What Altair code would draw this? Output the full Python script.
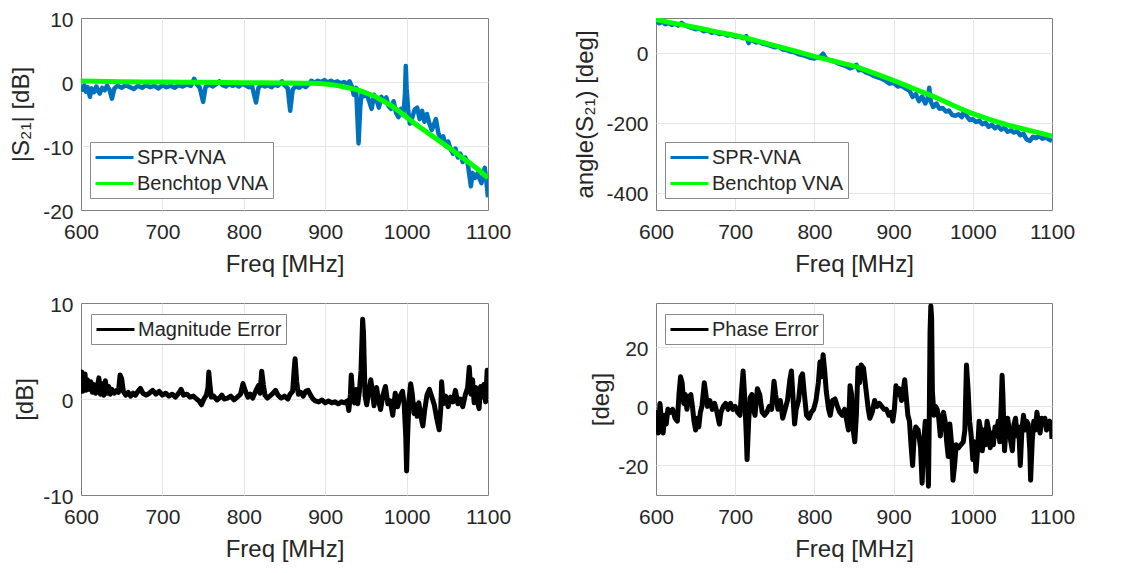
import altair as alt
import pandas as pd

FONT = "Liberation Sans"
TXT = "#262626"
BLUE = "#0072BD"
GREEN = "#00FF00"
BLACK = "#000000"

X_TICKS = [600, 700, 800, 900, 1000, 1100]

# ---- |S21| SPR-VNA (dB)
sm_f = [600,602,604,606,608,611,613,616,619,621,623,626,629,632,635,638,641,645,650,655,
        660,665,670,675,680,685,690,695,700,705,710,715,720,725,730,735,739,742,746,750,
        753,757,762,766,770,774,778,782,786,790,794,798,802,806,810,815,818,822,826,830,
        834,838,842,847,850,854,857,860,864,868,872,876,880,883,887,891,895,899,903,907,
        911,915,919,923,927,930,933,935,938,941,943,945,948,951,954,957,960,963,966,969,
        972,975,978,981,984,987,990,993,996,998,999,1000,1002,1004,1007,1010,1013,1016,1019,1022,
        1025,1028,1031,1034,1036,1039,1042,1045,1048,1051,1054,1057,1060,1063,1066,1069,1072,1075,1077,1079,
        1081,1084,1087,1090,1092,1094,1096,1098,1100]
sm_v = [-0.6,-1.2,-0.5,-1.5,-0.8,-2.3,-1.0,-1.6,-0.7,-1.4,-1.8,-0.9,-1.3,-0.6,-1.2,-2.6,-1.0,-0.6,-0.9,-0.5,
        -0.8,-1.1,-0.6,-0.9,-0.5,-0.8,-0.6,-1.0,-0.5,-0.8,-0.6,-0.9,-0.5,-0.7,-0.4,-0.6,0.5,-0.3,-0.9,-3.1,
        -0.8,-0.4,-0.7,-0.3,0.1,-0.5,-0.7,-0.3,-0.6,-0.4,-0.7,-0.3,-0.5,-0.8,-0.6,-3.2,-0.9,-0.4,-0.7,-0.5,
        -0.8,-0.4,-0.6,0.1,-0.5,-1.0,-4.5,-1.2,-0.6,-0.9,-0.5,-0.8,-0.3,0.2,-0.1,0.2,0.0,0.3,-0.1,0.2,
        -0.1,0.1,-0.2,0.0,-0.3,0.1,-0.8,-2.0,-0.9,-9.6,-4.0,-1.5,-2.2,-1.8,-3.0,-4.2,-2.0,-2.8,-4.0,-2.3,
        -3.0,-2.4,-3.8,-4.2,-3.0,-4.8,-5.5,-4.2,-5.2,-2.0,2.5,-1.0,-4.5,-6.5,-5.5,-4.3,-4.0,-5.8,-4.5,-6.2,
        -5.0,-6.5,-7.5,-6.5,-5.8,-8.0,-8.8,-8.5,-10.0,-9.3,-10.5,-11.2,-10.4,-11.8,-11.2,-12.5,-11.8,-12.6,-14.5,-16.3,
        -14.2,-15.0,-14.3,-15.2,-15.8,-14.6,-13.4,-15.5,-18.0]

# ---- |S21| Benchtop VNA (dB)
bm_f = [600,650,700,750,800,850,880,900,910,920,930,940,950,960,970,980,990,1000,1010,1020,
        1030,1040,1050,1060,1070,1080,1090,1100]
bm_v = [0.15,0.05,0.0,-0.05,-0.1,-0.15,-0.2,-0.3,-0.45,-0.7,-0.95,-1.25,-1.7,-2.2,-2.9,-3.6,-4.5,-5.5,-6.5,-7.4,
        -8.3,-9.2,-10.1,-11.0,-12.0,-12.9,-13.9,-15.0]

# ---- angle(S21) SPR-VNA (deg)
sp_f = [600,604,608,612,616,620,624,628,632,636,
        640,645,650,655,660,665,670,675,680,685,
        690,695,700,705,710,714,717,719,722,726,
        730,735,740,745,750,755,760,765,770,775,
        780,785,790,795,800,804,808,811,814,818,
        822,826,830,835,840,845,850,853,856,860,
        865,870,875,880,885,890,895,900,905,910,
        915,920,924,928,932,936,940,943,945,947,
        950,954,958,962,966,970,974,978,982,986,
        989,992,996,1000,1004,1008,1012,1016,1020,1024,
        1028,1032,1036,1040,1044,1048,1052,1056,1060,1064,
        1068,1072,1076,1080,1084,1088,1092,1096,1100]
sp_v = [92,85,90,82,86,80,84,78,86,80,
        76,72,68,70,62,66,58,60,54,56,
        50,52,46,48,42,48,28,38,36,30,
        32,26,24,20,16,18,10,8,4,2,
        -4,-6,-10,-14,-16,-12,-10,-2,-14,-20,
        -22,-26,-30,-34,-38,-44,-40,-34,-50,-48,
        -56,-60,-66,-70,-74,-80,-88,-86,-96,-94,
        -102,-108,-126,-118,-138,-125,-145,-130,-100,-140,
        -155,-145,-160,-158,-168,-165,-178,-180,-176,-184,
        -165,-180,-192,-190,-198,-194,-204,-200,-212,-206,
        -216,-210,-220,-214,-226,-222,-228,-224,-236,-232,
        -248,-252,-240,-244,-238,-246,-242,-248,-252]

# ---- angle(S21) Benchtop VNA (deg)
bp_f = [600,625,650,675,700,725,750,775,800,825,850,875,900,925,950,975,1000,1025,1050,1075,1100]
bp_v = [95,84,73,61,50,36,21,6,-10,-24,-38,-58,-79,-102,-124,-150,-174,-193,-210,-224,-238]

# ---- Magnitude error (dB)
me_f = [600,601,602,603,604,605,606,608,610,612,
        614,616,618,620,622,624,626,628,630,632,
        634,636,638,641,644,646,648,650,652,655,
        658,661,664,667,670,673,676,680,684,688,
        692,696,700,704,708,712,716,720,723,726,
        730,734,738,742,745,748,751,754,756,757,
        758,760,763,767,770,773,776,780,784,788,
        792,796,799,802,805,808,811,815,818,820,
        822,824,826,829,832,836,839,842,846,850,
        854,857,860,862,863,865,867,870,873,876,
        879,882,885,888,892,896,900,904,908,912,
        916,920,924,927,929,931,932,934,936,938,
        940,942,944,946,947,949,951,953,956,958,
        960,963,966,968,971,974,977,980,983,986,
        989,992,995,997,999,1000,1001,1003,1005,1007,
        1009,1011,1013,1015,1018,1020,1022,1025,1028,1031,
        1034,1037,1040,1042,1043,1045,1048,1051,1054,1057,
        1060,1063,1066,1069,1072,1075,1077,1079,1081,1083,
        1085,1087,1089,1091,1093,1095,1097,1099,1100]
me_v = [1.0,2.8,0.8,2.4,1.2,2.6,0.9,2.0,1.0,1.8,
        0.7,1.5,0.6,1.2,2.2,0.5,1.6,0.4,1.9,0.6,
        1.3,0.5,1.0,0.6,0.9,0.7,2.5,2.1,0.8,0.4,
        0.7,0.3,0.6,0.4,0.8,1.1,0.6,0.4,0.6,0.9,
        0.5,0.8,0.4,0.6,0.3,0.5,0.2,0.6,1.0,0.4,
        0.5,0.2,0.3,0.0,-0.2,-0.6,0.0,0.4,1.2,2.8,
        1.8,0.2,0.3,-0.1,0.1,0.4,0.0,0.1,0.3,-0.1,
        0.2,0.5,1.6,0.8,0.2,0.5,0.1,0.9,1.4,0.6,
        2.9,1.5,0.4,0.1,0.3,0.6,0.9,0.4,0.1,0.3,
        0.0,0.5,0.8,3.2,4.2,1.8,0.5,0.7,0.3,0.8,
        0.9,0.4,0.0,-0.2,-0.3,-0.1,-0.4,-0.2,-0.4,-0.3,
        -0.5,-0.3,-0.4,-0.2,-1.2,0.5,2.5,0.2,-0.4,1.0,
        -0.5,0.8,3.0,8.3,7.0,0.3,-0.6,0.5,2.0,0.8,
        -0.7,1.2,-0.3,-1.1,0.4,1.3,-0.5,-0.2,-1.7,0.6,
        -0.8,0.3,0.8,-0.5,-4.0,-7.5,-4.5,0.0,1.6,0.5,
        -1.5,-0.6,-1.8,-0.4,-2.0,-2.8,-1.3,0.4,1.0,0.2,
        -0.6,-2.0,-3.2,-1.0,1.8,-0.5,0.3,-0.8,0.2,-0.3,
        0.9,-0.5,0.0,-0.8,0.4,1.2,3.3,0.5,2.0,-0.4,
        1.2,-0.2,-1.0,1.3,0.2,1.5,-0.3,3.0,0.0]

# ---- Phase error (deg)
pe_f = [600,601,602,603,605,607,609,611,613,615,
        618,621,624,627,629,631,633,635,637,639,
        641,644,646,648,650,652,654,656,658,661,
        663,665,668,671,674,677,680,682,685,688,
        691,694,697,700,703,706,708,710,712,714,
        715,717,719,721,723,725,728,731,734,737,
        740,743,746,749,751,754,757,760,763,766,
        769,771,773,775,777,780,783,785,787,790,
        793,796,799,802,805,807,809,811,813,815,
        818,820,823,826,829,832,835,838,841,843,
        845,847,849,851,853,855,857,859,862,865,
        868,870,873,876,879,882,885,888,891,894,
        897,899,901,903,905,907,910,912,914,916,
        918,920,922,924,926,928,931,934,936,938,
        940,942,944,945,946,947,948,949,951,953,
        955,957,959,961,963,965,967,969,971,973,
        975,977,979,982,985,988,990,992,994,996,
        998,1000,1002,1004,1006,1008,1010,1012,1014,1016,
        1018,1020,1022,1024,1026,1028,1030,1032,1034,1036,
        1037,1038,1040,1042,1044,1046,1048,1050,1052,1054,
        1056,1058,1060,1062,1064,1066,1068,1070,1072,1073,
        1075,1077,1079,1081,1083,1085,1087,1089,1091,1093,
        1095,1097,1099,1100]
pe_v = [-3,-8,-2,-9,1,-5,-9,-3,-6,-1,
        -2,-1,-4,-5,4,10,8,1,4,-1,
        3,4,0,-5,-8,-4,-7,-2,0,8,
        4,0,2,-1,1,-2,-6,-2,0,1,
        -1,1,-1,0,-2,-3,5,12,3,-10,
        -18,-5,3,4,-1,-3,6,4,-2,-3,
        -2,0,-1,8.5,4,-1,2,-4,-1,2,
        9,12,3,-6,-1,2,10,11,5,-3,
        -4,-2,-1,2,8,15,10,17.5,12,5,
        -1,-3,2,2.5,0,-2,-3,-1,-5,-8,
        7,4,-8,-12,-3,13,8,14,13,6,
        -1,-4,-2,2,0,1,0,-1,-1,-3,
        -2,-5,-1,7,4,6,2,5,9,3,
        -3,-5,-13,-20,-10,-7,-8,-14,-26,-12,
        -5,-10,-27,-5,25,34,30,5,-3,0,
        -1,-4,-10,-4,-2,-5,-12,-17,-6,-12,
        -25,-20,-13,-14,-13,-12,-8,14,6,-5,
        -10,-18,-12,-22,-15,-5,-8,-15,-8,-13,
        -5,-8,-14,-9,-13,-7,-10,-5,-12,2,
        10.5,4,-15,-8,-4,-8,-12,-15,-6,-4,
        -10,-7,-20,-8,-3,-8,-5,-6,-15,-25,
        -12,-5,-8,-2,-6,-9,-4,-6,-4,-8,
        -7,-5,-6,-11]


def frame(f, v, name):
    return pd.DataFrame({"f": f, "v": v, "s": name})


def edge_grid(lo, hi):
    return {"condition": {"test": f"datum.value <= {lo} || datum.value >= {hi}", "value": 0},
            "value": 1}


def panel(series, ydom, yvals, ytitle, yext, ytp, w, h, lx, ly):
    names = [s[0] for s in series]
    colors = [s[3] for s in series]
    cscale = alt.Scale(domain=names, range=colors)
    legend = alt.Legend(
        orient="none", legendX=lx, legendY=ly, title=None,
        symbolType="M-1,0H2.8", symbolSize=400, symbolStrokeWidth=3,
        labelFontSize=20, labelFont=FONT, labelColor=TXT,
        strokeColor="#8a8a8a", fillColor="white", padding=4,
        rowPadding=4, labelOffset=20, cornerRadius=0,
    )
    xax = alt.Axis(title="Freq [MHz]", values=X_TICKS, labelFlush=False,
                   labelExpr="'' + datum.value",
                   labelPadding=11, titlePadding=10, grid=True, ticks=False,
                   domain=False, labelOverlap=False,
                   gridOpacity=edge_grid(600, 1100))
    yax = alt.Axis(title=ytitle, values=yvals, grid=True, ticks=False,
                   labelExpr="'' + datum.value", labelOffset=2,
                   domain=False, labelPadding=8, minExtent=yext,
                   maxExtent=yext, titlePadding=ytp, labelOverlap=False,
                   gridOpacity=edge_grid(ydom[0], ydom[1]))
    layers = []
    for name, f, v, col, sw, interp in series:
        layers.append(
            alt.Chart(frame(f, v, name)).mark_line(
                strokeWidth=sw, clip=True, interpolate=interp, strokeJoin="round"
            ).encode(
                x=alt.X("f:Q", scale=alt.Scale(domain=[600, 1100], nice=False, zero=False), axis=xax),
                y=alt.Y("v:Q", scale=alt.Scale(domain=ydom, nice=False, zero=False), axis=yax),
                color=alt.Color("s:N", scale=cscale, legend=legend),
            )
        )
    return alt.layer(*layers).properties(width=w, height=h)


tl = panel(
    [("SPR-VNA", sm_f, sm_v, BLUE, 4.5, "linear"),
     ("Benchtop VNA", bm_f, bm_v, GREEN, 5, "monotone")],
    [-20, 10], [-20, -10, 0, 10], "|S₂₁|  [dB]", 38, 10, 407, 192, 9, 124)

tr = panel(
    [("SPR-VNA", sp_f, sp_v, BLUE, 4.5, "linear"),
     ("Benchtop VNA", bp_f, bp_v, GREEN, 5, "monotone")],
    [-450, 100], [-400, -200, 0], "angle(S₂₁)  [deg]", 49, 10, 396, 192, 9, 124)

bl = panel(
    [("Magnitude Error", me_f, me_v, BLACK, 5, "linear")],
    [-10, 10], [-10, 0, 10], "[dB]", 38, 6, 407, 192, 10, 11)

br = panel(
    [("Phase Error", pe_f, pe_v, BLACK, 5, "linear")],
    [-30, 35], [-20, 0, 20], "[deg]", 38, 5, 396, 192, 9, 11)

chart = alt.concat(
    tl, tr, bl, br, columns=2,
    spacing={"row": 93, "column": 168}, bounds="flush",
).resolve_scale(
    color="independent", x="independent", y="independent"
).properties(
    padding={"left": 0, "top": 0, "right": 0, "bottom": 0}
).configure_view(
    stroke="#7f7f7f", strokeWidth=1
).configure_axis(
    labelFont=FONT, titleFont=FONT, labelFontSize=21, titleFontSize=24,
    titleFontWeight="normal", labelColor=TXT, titleColor=TXT,
    gridColor="#e6e6e6", gridWidth=1,
)

chart.save("out.html", embed_options={"renderer": "svg", "actions": False})
